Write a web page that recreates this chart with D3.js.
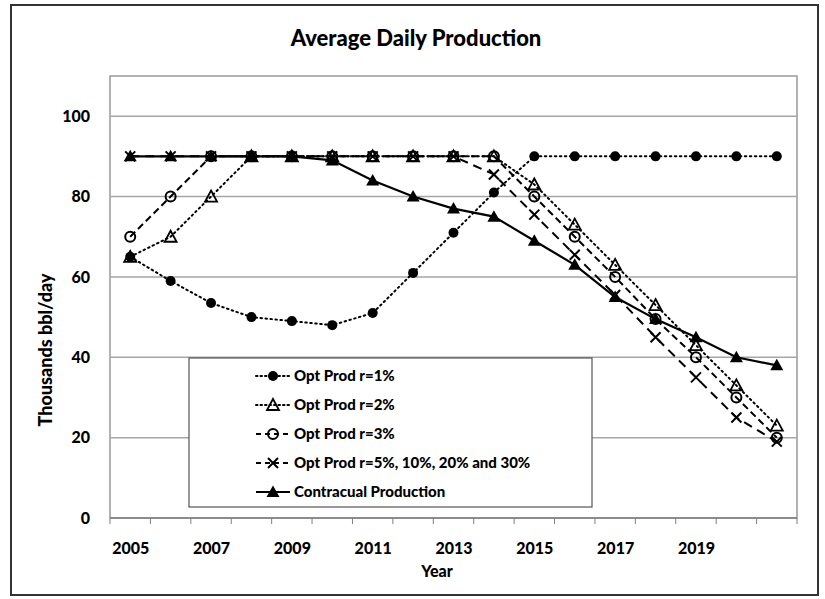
<!DOCTYPE html>
<html>
<head>
<meta charset="utf-8">
<script src="https://cdn.jsdelivr.net/npm/d3@7"></script>
<style>
  body { margin: 0; background: #fff; }
  svg text { font-family: Lato, "Open Sans", sans-serif; font-weight: bold; fill: #000; }
</style>
</head>
<body>
<div id="chart"></div>
<script>
// Categories and series values
var years = ["2005","2006","2007","2008","2009","2010","2011","2012","2013",
             "2014","2015","2016","2017","2018","2019","2020","2021"];
var yearLabels = ["2005","2007","2009","2011","2013","2015","2017","2019"];
var yTicks = [0, 20, 40, 60, 80, 100];

var optR1 = [65, 59, 53.5, 50, 49, 48, 51, 61, 71, 81, 90, 90, 90, 90, 90, 90, 90];
var optR2 = [65, 70, 80, 90, 90, 90, 90, 90, 90, 90, 83, 73, 63, 53, 43, 33, 23];
var optR3 = [70, 80, 90, 90, 90, 90, 90, 90, 90, 90, 80, 70, 60, 49.5, 40, 30, 20];
var optR5 = [90, 90, 90, 90, 90, 90, 90, 90, 90, 85.5, 75.5, 65.5, 55.5, 45, 35, 25, 19];
var contractual = [90, 90, 90, 90, 90, 89, 84, 80, 77, 75, 69, 63, 55, 49.5, 45, 40, 38];

var seriesNames = ["Opt Prod r=1%", "Opt Prod r=2%", "Opt Prod r=3%",
                   "Opt Prod r=5%, 10%, 20% and 30%", "Contracual Production"];

var W = 825, H = 599;
var plot = {left: 110, right: 797, top: 76, bottom: 518};

var svg = d3.select("#chart").append("svg")
  .attr("width", W).attr("height", H);

// outer frame
svg.append("rect")
  .attr("x", 11).attr("y", 5).attr("width", 807).attr("height", 590)
  .attr("fill", "none").attr("stroke", "#333").attr("stroke-width", 2);

// title
svg.append("text")
  .attr("x", 416).attr("y", 46)
  .attr("text-anchor", "middle")
  .style("font-size", "22px")
  .style("font-weight", "900")
  .text("Average Daily Production");

// scales
var x = d3.scalePoint().domain(years).range([plot.left, plot.right]).padding(0.5);
var xBand = d3.scaleBand().domain(years).range([plot.left, plot.right]);
var y = d3.scaleLinear().domain([0, 110]).range([plot.bottom, plot.top]);

// plot area border
svg.append("rect")
  .attr("x", plot.left).attr("y", plot.top)
  .attr("width", plot.right - plot.left).attr("height", plot.bottom - plot.top)
  .attr("fill", "none").attr("stroke", "#999").attr("stroke-width", 1.5);

// gridlines
svg.append("g").selectAll("line")
  .data(yTicks.filter(function(d) { return d > 0; }))
  .enter().append("line")
  .attr("x1", plot.left).attr("x2", plot.right)
  .attr("y1", function(d) { return y(d); })
  .attr("y2", function(d) { return y(d); })
  .attr("stroke", "#a6a6a6").attr("stroke-width", 1.5);

// y axis
var yAxis = svg.append("g")
  .attr("transform", "translate(" + plot.left + ",0)")
  .call(d3.axisLeft(y).tickValues(yTicks).tickSize(0).tickPadding(20));
yAxis.select(".domain").remove();
yAxis.selectAll("text").style("font-size", "16px")
  .style("font-family", "Lato, sans-serif").style("font-weight", "900");

// x axis line
svg.append("line")
  .attr("x1", plot.left).attr("x2", plot.right)
  .attr("y1", y(0)).attr("y2", y(0))
  .attr("stroke", "#7f7f7f").attr("stroke-width", 1.5);

// x tick marks at category boundaries
svg.append("g").selectAll("line")
  .data(years.concat(["end"]))
  .enter().append("line")
  .attr("x1", function(d) { return d === "end" ? plot.right : xBand(d); })
  .attr("x2", function(d) { return d === "end" ? plot.right : xBand(d); })
  .attr("y1", y(0)).attr("y2", y(0) + 6)
  .attr("stroke", "#7f7f7f").attr("stroke-width", 1);

// x labels
var xAxis = svg.append("g")
  .attr("transform", "translate(0," + y(0) + ")")
  .call(d3.axisBottom(x).tickValues(yearLabels).tickSize(0).tickPadding(25));
xAxis.select(".domain").remove();
xAxis.selectAll("text").style("font-size", "16px")
  .style("font-family", "Lato, sans-serif").style("font-weight", "900");

// axis titles
svg.append("text")
  .attr("x", 437).attr("y", 577)
  .attr("text-anchor", "middle")
  .style("font-size", "16px")
  .style("font-weight", "900")
  .text("Year");

svg.append("text")
  .attr("transform", "translate(52,350) rotate(-90)")
  .attr("text-anchor", "middle")
  .style("font-size", "18px")
  .style("font-weight", "900")
  .text("Thousands bbl/day");

// series definitions
var series = [
  {name: seriesNames[0], values: optR1, dash: "1.5,3.5", marker: "dot"},
  {name: seriesNames[1], values: optR2, dash: "1.5,3.5", marker: "tri-open"},
  {name: seriesNames[2], values: optR3, dash: "7,4", marker: "circle-open"},
  {name: seriesNames[3], values: optR5, dash: "9,6", marker: "cross"},
  {name: seriesNames[4], values: contractual, dash: null, marker: "tri"}
];

var line = d3.line()
  .x(function(d, i) { return x(years[i]); })
  .y(function(d) { return y(d); });

function drawMarker(g, type) {
  if (type === "dot") {
    g.append("circle").attr("r", 5).attr("fill", "#000");
  } else if (type === "circle-open") {
    g.append("circle").attr("r", 5).attr("fill", "none")
      .attr("stroke", "#000").attr("stroke-width", 2);
  } else if (type === "tri-open") {
    g.append("path").attr("d", "M0,-6L6,5L-6,5Z").attr("fill", "none")
      .attr("stroke", "#000").attr("stroke-width", 1.8);
  } else if (type === "tri") {
    g.append("path").attr("d", "M0,-6.5L6.5,5L-6.5,5Z").attr("fill", "#000");
  } else if (type === "cross") {
    g.append("path").attr("d", "M-5,-5L5,5M5,-5L-5,5").attr("fill", "none")
      .attr("stroke", "#000").attr("stroke-width", 2);
  }
}

series.forEach(function(s) {
  var g = svg.append("g");
  g.append("path")
    .datum(s.values)
    .attr("fill", "none")
    .attr("stroke", "#000")
    .attr("stroke-width", s.dash ? 2 : 2.2)
    .attr("stroke-dasharray", s.dash)
    .attr("stroke-linecap", s.dash && s.dash.indexOf("1.5") === 0 ? "round" : "butt")
    .attr("d", line);
  g.selectAll(".m")
    .data(s.values)
    .enter().append("g")
    .attr("transform", function(d, i) { return "translate(" + x(years[i]) + "," + y(d) + ")"; })
    .each(function() { drawMarker(d3.select(this), s.marker); });
});

// legend
var legend = svg.append("g");
legend.append("rect")
  .attr("x", 189).attr("y", 358).attr("width", 403).attr("height", 149)
  .attr("fill", "#fff").attr("stroke", "#555").attr("stroke-width", 1.2);

series.forEach(function(s, i) {
  var ly = 376 + i * 29;
  var row = legend.append("g");
  row.append("line")
    .attr("x1", 256).attr("x2", 290).attr("y1", ly).attr("y2", ly)
    .attr("stroke", "#000").attr("stroke-width", 2)
    .attr("stroke-dasharray", s.dash ? (s.dash.indexOf("1.5") === 0 ? "1.5,3" : "5,4") : null)
    .attr("stroke-linecap", s.dash && s.dash.indexOf("1.5") === 0 ? "round" : "butt");
  var m = row.append("g").attr("transform", "translate(273," + ly + ")");
  drawMarker(m, s.marker);
  row.append("text")
    .attr("x", 294).attr("y", ly + 5)
    .style("font-size", "15px")
    .style("font-weight", "900")
    .text(s.name);
});
</script>
</body>
</html>
